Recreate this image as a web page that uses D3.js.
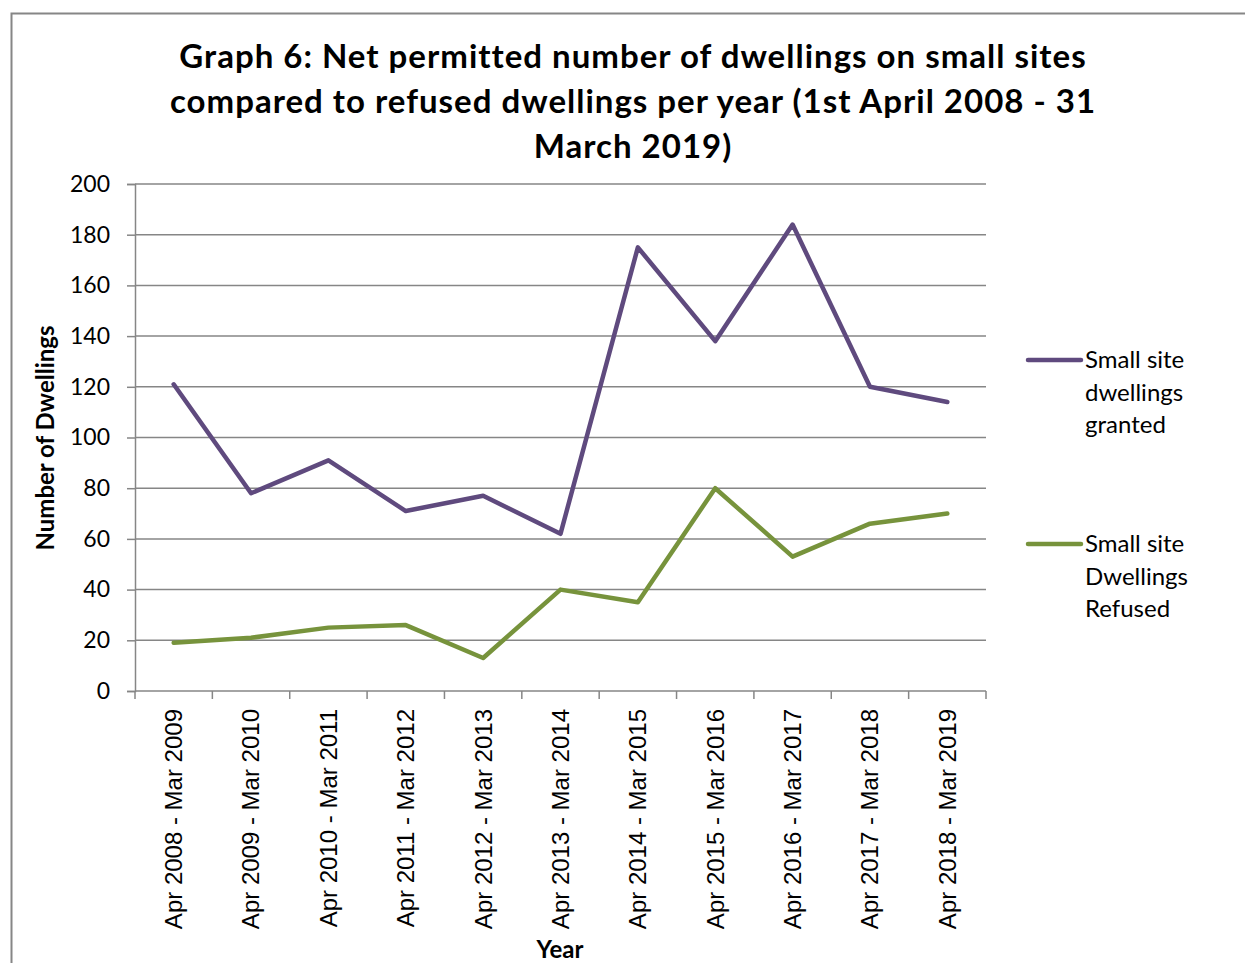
<!DOCTYPE html>
<html>
<head>
<meta charset="utf-8">
<script src="https://cdn.jsdelivr.net/npm/d3@7"></script>
<style>
  body { margin: 0; background: #fff; }
  svg { display: block; }
  .calib { font-family: Lato, "Open Sans", sans-serif; }
</style>
</head>
<body>
<div id="chart"></div>
<script>
var periods = ["Apr 2008 - Mar 2009", "Apr 2009 - Mar 2010", "Apr 2010 - Mar 2011",
    "Apr 2011 - Mar 2012", "Apr 2012 - Mar 2013", "Apr 2013 - Mar 2014",
    "Apr 2014 - Mar 2015", "Apr 2015 - Mar 2016", "Apr 2016 - Mar 2017",
    "Apr 2017 - Mar 2018", "Apr 2018 - Mar 2019"];
var granted = [121, 78, 91, 71, 77, 62, 175, 138, 184, 120, 114];
var refused = [19, 21, 25, 26, 13, 40, 35, 80, 53, 66, 70];
var yTicks = [0, 20, 40, 60, 80, 100, 120, 140, 160, 180, 200];
var titleLines = ["Graph 6: Net permitted number of dwellings on small sites",
    "compared to refused dwellings per year (1st April 2008 - 31",
    "March 2019)"];

var series = [
    {name: ["Small site", "dwellings", "granted"], values: granted, color: "#5f4a7e", ly: 360},
    {name: ["Small site", "Dwellings", "Refused"], values: refused, color: "#77933c", ly: 544}
];

var W = 1245, H = 963;
var svg = d3.select("#chart").append("svg").attr("width", W).attr("height", H);

// outer chart frame (runs off the right/bottom edge)
svg.append("rect")
    .attr("x", 11.5).attr("y", 13.5)
    .attr("width", 1260).attr("height", 1000)
    .attr("fill", "#fff").attr("stroke", "#868686").attr("stroke-width", 2);

svg.append("g").selectAll("text")
    .data(titleLines)
    .enter().append("text")
    .attr("class", "calib")
    .attr("x", 633).attr("y", function(d, i) { return 68 + i * 45; })
    .attr("text-anchor", "middle")
    .attr("font-size", 33).attr("font-weight", "bold")
    .attr("letter-spacing", 1)
    .text(function(d) { return d; });

var x = d3.scaleBand().domain(periods).range([135, 986]);
var y = d3.scaleLinear().domain([0, 200]).range([691, 184]);

// gridlines
svg.append("g").selectAll("line")
    .data(yTicks.slice(1))
    .enter().append("line")
    .attr("x1", 135).attr("x2", 986)
    .attr("y1", function(d) { return y(d); }).attr("y2", function(d) { return y(d); })
    .attr("stroke", "#868686").attr("stroke-width", 1.5);

// y axis
var yAxis = svg.append("g")
    .attr("transform", "translate(135,0)")
    .call(d3.axisLeft(y).tickValues(yTicks).tickSize(8).tickPadding(17));
yAxis.select(".domain").attr("stroke", "#868686").attr("stroke-width", 1.5);
yAxis.selectAll(".tick line").attr("stroke", "#868686").attr("stroke-width", 1.5);
yAxis.selectAll("text")
    .attr("class", "calib")
    .attr("font-size", 23).attr("fill", "#000");

// x axis: ticks sit between categories
var xAxis = svg.append("g").attr("transform", "translate(0,691)");
xAxis.append("line")
    .attr("x1", 135).attr("x2", 986)
    .attr("stroke", "#868686").attr("stroke-width", 1.5);
var bounds = periods.map(function(p) { return x(p); }).concat([986]);
xAxis.selectAll(".xt")
    .data(bounds)
    .enter().append("line")
    .attr("class", "xt")
    .attr("x1", function(d) { return d; }).attr("x2", function(d) { return d; })
    .attr("y1", 0).attr("y2", 8)
    .attr("stroke", "#868686").attr("stroke-width", 1.5);
xAxis.selectAll(".xl")
    .data(periods)
    .enter().append("text")
    .attr("class", "xl")
    .attr("transform", function(d) {
        return "translate(" + (x(d) + x.bandwidth() / 2) + ",18) rotate(-90)";
    })
    .attr("dy", "0.35em")
    .attr("text-anchor", "end")
    .attr("font-family", "'Liberation Sans', Arial, sans-serif")
    .attr("font-size", 24)
    .text(function(d) { return d; });

// axis titles
svg.append("text")
    .attr("class", "calib")
    .attr("transform", "translate(54,438) rotate(-90)")
    .attr("text-anchor", "middle")
    .attr("font-size", 24).attr("font-weight", "bold")
    .text("Number of Dwellings");
svg.append("text")
    .attr("class", "calib")
    .attr("x", 560).attr("y", 958)
    .attr("text-anchor", "middle")
    .attr("font-size", 24).attr("font-weight", "bold")
    .text("Year");

// lines
var line = d3.line()
    .x(function(d, i) { return x(periods[i]) + x.bandwidth() / 2; })
    .y(function(d) { return y(d); });

svg.append("g").selectAll("path")
    .data(series)
    .enter().append("path")
    .attr("d", function(s) { return line(s.values); })
    .attr("fill", "none")
    .attr("stroke", function(s) { return s.color; })
    .attr("stroke-width", 4.5)
    .attr("stroke-linejoin", "round")
    .attr("stroke-linecap", "round");

// legend
var leg = svg.append("g").selectAll("g")
    .data(series)
    .enter().append("g");
leg.append("line")
    .attr("x1", 1028).attr("x2", 1081)
    .attr("y1", function(s) { return s.ly; }).attr("y2", function(s) { return s.ly; })
    .attr("stroke", function(s) { return s.color; })
    .attr("stroke-width", 4.5).attr("stroke-linecap", "round");
leg.each(function(s) {
    d3.select(this).selectAll("text")
        .data(s.name)
        .enter().append("text")
        .attr("class", "calib")
        .attr("x", 1085)
        .attr("y", function(d, i) { return s.ly + 8 + i * 32.5; })
        .attr("font-size", 24)
        .text(function(d) { return d; });
});
</script>
</body>
</html>
